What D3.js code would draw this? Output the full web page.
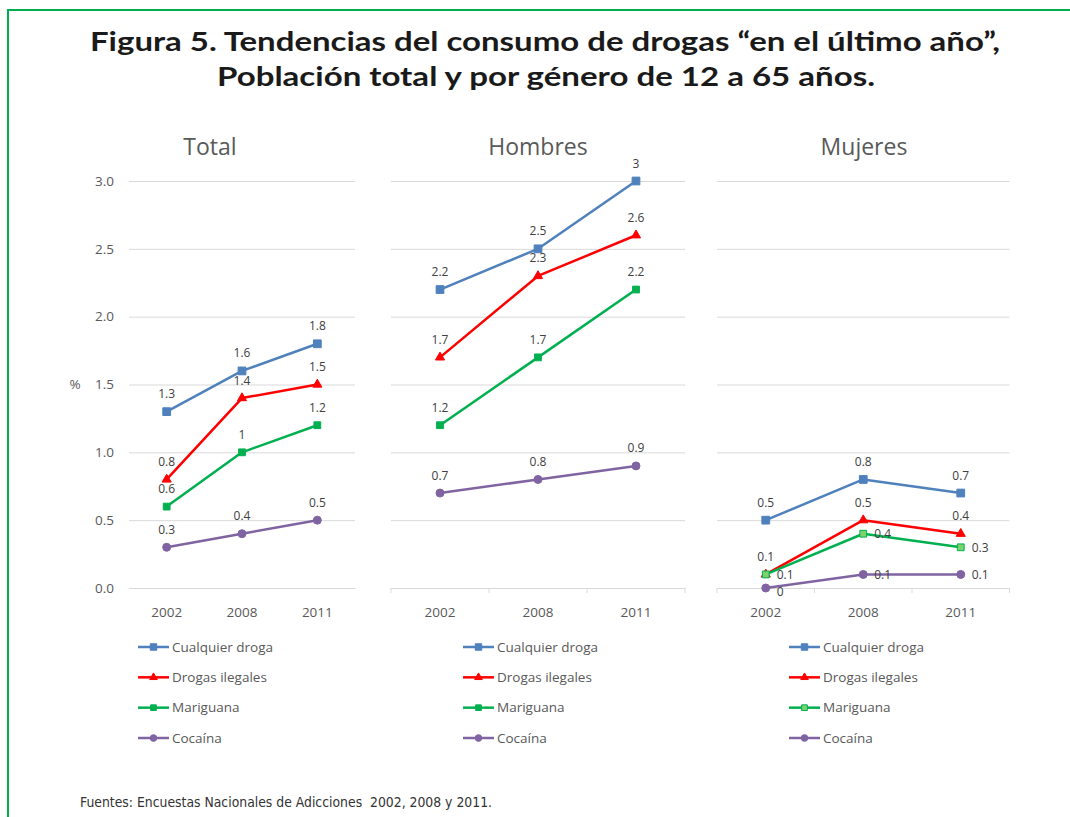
<!DOCTYPE html>
<html><head><meta charset="utf-8">
<script src="https://cdn.jsdelivr.net/npm/d3@7"></script>
<style>
body{margin:0;background:#fff;}
svg{display:block;}
</style></head>
<body>
<svg id="chart" width="1070" height="817"></svg>
<script>
// ---------- data ----------
const years = ["2002", "2008", "2011"];
const panelNames = ["Total", "Hombres", "Mujeres"];
const seriesNames = ["Cualquier droga", "Drogas ilegales", "Mariguana", "Cocaína"];
const totalValues   = [[1.3, 1.6, 1.8], [0.8, 1.4, 1.5], [0.6, 1.0, 1.2], [0.3, 0.4, 0.5]];
const hombresValues = [[2.2, 2.5, 3.0], [1.7, 2.3, 2.6], [1.2, 1.7, 2.2], [0.7, 0.8, 0.9]];
const mujeresValues = [[0.5, 0.8, 0.7], [0.1, 0.5, 0.4], [0.1, 0.4, 0.3], [0.0, 0.1, 0.1]];
const yTicks = [0, 0.5, 1.0, 1.5, 2.0, 2.5, 3.0];
const titleLines = ["Figura 5. Tendencias del consumo de drogas \u201cen el último año\u201d,",
                    "Población total y por género de 12 a 65 años."];
const yAxisTitle = "%";
const footerText = "Fuentes: Encuestas Nacionales de Adicciones\u00a0 2002, 2008 y 2011.";

// ---------- layout / style ----------
const colors = ["#4f81bd", "#ff0000", "#00b050", "#8064a2"];
const symbols = [d3.symbolSquare, d3.symbolTriangle, d3.symbolSquare, d3.symbolCircle];
const symSizes = [60, 36, 46, 50];
const panelValues = [totalValues, hombresValues, mujeresValues];
const panelLayout = [
  {x0: 129, x1: 355, titleX: 210, legX: 138, boundaryTicks: false},
  {x0: 391, x1: 685, titleX: 538, legX: 463, boundaryTicks: true},
  {x0: 717, x1: 1009.5, titleX: 864, legX: 789, boundaryTicks: true}
];
// label placement: "top", "right" or "rightlow"
const labelPlacement = [
  null, null,
  [["top","top","top"],["top","top","top"],["right","right","right"],["rightlow","right","right"]]
];
const yTop = 181, yBot = 588;
const gridColor = "#d9d9d9";
const textGray = "#595959";
const labelFont = "'Open Sans', sans-serif";

const svg = d3.select("#chart");

// border
svg.append("rect").attr("x", 8).attr("y", 10).attr("width", 1200).attr("height", 1000)
  .attr("fill", "none").attr("stroke", "#00b050").attr("stroke-width", 2);

// title
const t1 = svg.append("text").attr("x", 545).attr("y", 51).attr("text-anchor", "middle")
  .attr("font-family", "Lato, sans-serif").attr("font-weight", 700).attr("font-size", 27)
  .attr("fill", "#1a1a1a").text(titleLines[0])
  .attr("textLength", 910).attr("lengthAdjust", "spacingAndGlyphs");
const t2 = svg.append("text").attr("x", 546).attr("y", 86).attr("text-anchor", "middle")
  .attr("font-family", "Lato, sans-serif").attr("font-weight", 700).attr("font-size", 27)
  .attr("fill", "#1a1a1a").text(titleLines[1])
  .attr("textLength", 658).attr("lengthAdjust", "spacingAndGlyphs");

const y = d3.scaleLinear().domain([0, 3]).range([yBot, yTop]);

panelNames.forEach((pname, pi) => {
  const L = panelLayout[pi];
  const vals = panelValues[pi];
  const x = d3.scaleBand().domain(years).range([L.x0, L.x1]);
  const cx = d => x(d) + x.bandwidth() / 2;
  const g = svg.append("g");

  // panel title
  g.append("text").attr("x", L.titleX).attr("y", 155).attr("text-anchor", "middle")
    .attr("font-family", labelFont).attr("font-size", 23).attr("fill", textGray).text(pname);

  // gridlines via axis
  const grid = g.append("g").attr("transform", `translate(${L.x0},0)`)
    .call(d3.axisRight(y).tickValues(yTicks).tickSize(L.x1 - L.x0).tickFormat(""));
  grid.select(".domain").remove();
  grid.selectAll(".tick line").attr("stroke", gridColor).attr("stroke-width", 1);

  // y axis labels only on first panel
  if (pi === 0) {
    const ya = g.append("g").attr("transform", `translate(${L.x0 - 15},0)`)
      .call(d3.axisLeft(y).tickValues(yTicks).tickSize(0).tickFormat(d3.format(".1f")));
    ya.select(".domain").remove();
    ya.selectAll(".tick text").attr("font-family", labelFont).attr("font-size", 13.5)
      .attr("fill", textGray).attr("x", 0);
    g.append("text").attr("x", 75).attr("y", y(1.5)).attr("dy", "0.35em")
      .attr("text-anchor", "middle").attr("font-family", labelFont).attr("font-size", 13.5)
      .attr("fill", textGray).text(yAxisTitle);
  }

  // x axis
  const xa = g.append("g").attr("transform", `translate(0,${yBot})`)
    .call(d3.axisBottom(x).tickSize(0).tickPadding(0));
  xa.select(".domain").attr("stroke", gridColor);
  xa.selectAll(".tick text").attr("font-family", labelFont).attr("font-size", 13.5)
    .attr("fill", textGray).attr("y", 29).attr("dy", 0);
  if (L.boundaryTicks) {
    const bounds = years.map(d => x(d)).concat([L.x1]);
    g.selectAll(".bt").data(bounds).join("line")
      .attr("x1", d => d).attr("x2", d => d).attr("y1", yBot).attr("y2", yBot + 5)
      .attr("stroke", gridColor);
  }

  // lines
  const line = d3.line().x((d, i) => cx(years[i])).y(d => y(d));
  vals.forEach((s, si) => {
    g.append("path").datum(s).attr("d", line).attr("fill", "none")
      .attr("stroke", colors[si]).attr("stroke-width", 2.5).attr("stroke-linejoin", "round");
  });
  // markers
  vals.forEach((s, si) => {
    g.selectAll(null).data(s).join("path")
      .attr("transform", (d, i) => `translate(${cx(years[i])},${y(d)})`)
      .attr("d", d3.symbol(symbols[si], symSizes[si]))
      .attr("fill", (pi === 2 && si === 2) ? "#7ad36b" : colors[si])
      .attr("stroke", colors[si]).attr("stroke-width", 1);
  });
  // data labels
  const place = (si, i) => labelPlacement[pi] ? labelPlacement[pi][si][i] : "top";
  vals.forEach((s, si) => {
    g.selectAll(null).data(s).join("text")
      .attr("x", (d, i) => place(si, i) === "top" ? cx(years[i]) : cx(years[i]) + 11)
      .attr("y", (d, i) => {
        const pl = place(si, i);
        return pl === "top" ? y(d) - 13.5 : (pl === "rightlow" ? y(d) + 7.5 : y(d) + 4.5);
      })
      .attr("text-anchor", (d, i) => place(si, i) === "top" ? "middle" : "start")
      .attr("font-family", labelFont).attr("font-size", 12).attr("fill", "#404040")
      .text(d => String(d));
  });

  // legend
  const ly = d3.scalePoint().domain(seriesNames).range([647, 738]);
  seriesNames.forEach((nm, si) => {
    const yy = ly(nm);
    g.append("line").attr("x1", L.legX).attr("x2", L.legX + 31).attr("y1", yy).attr("y2", yy)
      .attr("stroke", colors[si]).attr("stroke-width", 2.5);
    g.append("path").attr("transform", `translate(${L.legX + 15.5},${yy})`)
      .attr("d", d3.symbol(symbols[si], symSizes[si] * 0.7))
      .attr("fill", (pi === 2 && si === 2) ? "#7ad36b" : colors[si])
      .attr("stroke", colors[si]).attr("stroke-width", 1);
    g.append("text").attr("x", L.legX + 34).attr("y", yy).attr("dy", "0.35em")
      .attr("font-family", labelFont).attr("font-size", 13.5).attr("fill", textGray).text(nm);
  });
});

// footer
svg.append("text").attr("x", 80).attr("y", 807)
  .attr("font-family", "'Liberation Sans Narrow', 'DejaVu Sans Condensed', 'Liberation Sans', sans-serif")
  .attr("font-size", 13.5).attr("fill", "#333").text(footerText)
  .attr("textLength", 412).attr("lengthAdjust", "spacingAndGlyphs");
</script>
</body></html>
